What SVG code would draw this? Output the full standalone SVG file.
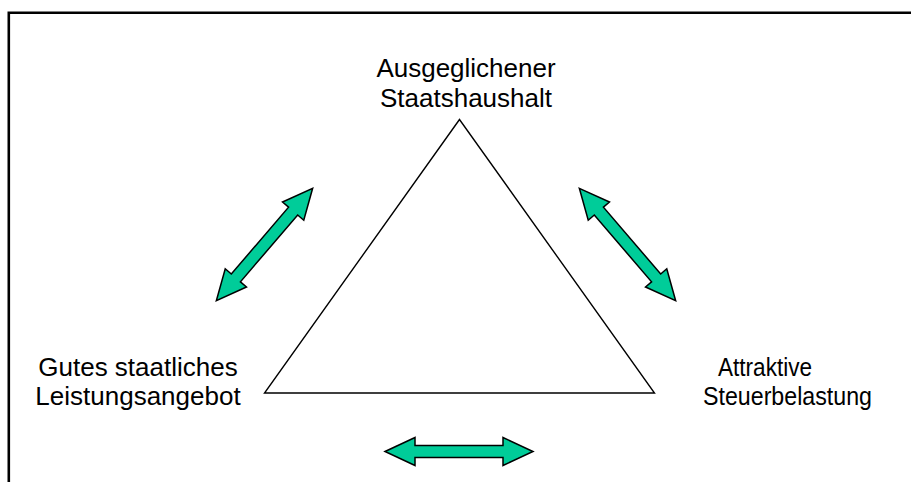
<svg xmlns="http://www.w3.org/2000/svg" width="911" height="482" viewBox="0 0 911 482">
<style>
text{font-family:"Liberation Sans",Arial,sans-serif;font-size:26px;fill:#000;text-anchor:middle}
text.r{font-size:25px;text-anchor:start}
.arr{fill:#00CC99;stroke:#000;stroke-width:1.5;stroke-linejoin:miter}
</style>
<defs>
<path id="dbl" d="M -74 0 L -44 -14 L -44 -6 L 44 -6 L 44 -14 L 74 0 L 44 14 L 44 6 L -44 6 L -44 14 Z"/>
</defs>
<rect width="911" height="482" fill="#fff"/>
<g id="frame" stroke="#000" stroke-width="2.6" fill="none">
<path d="M 8.8 482 L 8.8 12.8 L 911 12.8"/>
</g>
<g id="triangle">
<polygon points="459.5,119.5 264.5,393 654.5,393" fill="none" stroke="#000" stroke-width="1.4"/>
</g>
<g id="top">
<text x="466" y="77">Ausgeglichener</text>
<text x="466" y="107">Staatshaushalt</text>
</g>
<g id="left">
<text x="138" y="376">Gutes staatliches</text>
<text x="138" y="405">Leistungsangebot</text>
</g>
<g id="right">
<text class="r" x="718" y="376" textLength="94" lengthAdjust="spacingAndGlyphs">Attraktive</text>
<text class="r" x="703" y="405" textLength="169" lengthAdjust="spacingAndGlyphs">Steuerbelastung</text>
</g>
<g id="connectors">
<use href="#dbl" class="arr" transform="translate(264.5,244.5) rotate(-49.4)"/>
<use href="#dbl" class="arr" transform="translate(627.5,244.5) rotate(49.4)"/>
<use href="#dbl" class="arr" transform="translate(459,451.5)"/>
</g>
</svg>
